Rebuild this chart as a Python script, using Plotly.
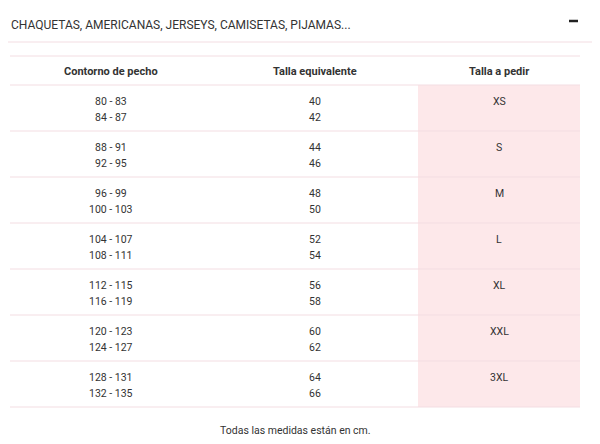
import plotly.graph_objects as go

title = "CHAQUETAS, AMERICANAS, JERSEYS, CAMISETAS, PIJAMAS..."
headers = ["Contorno de pecho", "Talla equivalente", "Talla a pedir"]
chest_a = ["80 - 83", "88 - 91", "96 - 99", "104 - 107", "112 - 115", "120 - 123", "128 - 131"]
chest_b = ["84 - 87", "92 - 95", "100 - 103", "108 - 111", "116 - 119", "124 - 127", "132 - 135"]
eq_a = ["40", "44", "48", "52", "56", "60", "64"]
eq_b = ["42", "46", "50", "54", "58", "62", "66"]
sizes = ["XS", "S", "M", "L", "XL", "XXL", "3XL"]
footer = "Todas las medidas están en cm."

W, H = 600, 444
OFF = 8  # page body margin compensation
line_c = "#f3dde2"
txt_c = "#333333"
font = "Roboto, Arial, sans-serif"
colx = [111, 315, 499]
row0, rowh = 85, 46
n = len(sizes)

fig = go.Figure()
shapes = []
ann = []
def A(x, y, t, size=11, xanchor="center", color=txt_c, bold=False):
    ann.append(dict(x=x, y=y, xref="x", yref="y", text=f"<b>{t}</b>" if bold else t,
                    showarrow=False, xanchor=xanchor, yanchor="middle",
                    font=dict(size=size, color=color, family=font)))

shapes.append(dict(type="rect", x0=418, x1=580, y0=row0, y1=row0 + n * rowh,
                   fillcolor="#fde8ea", line_width=0, layer="below"))
A(9, 25, title, size=12, xanchor="left")
shapes.append(dict(type="line", x0=569, x1=578, y0=21, y1=21, line=dict(color="#222", width=2.5)))
shapes.append(dict(type="line", x0=0, x1=592, y0=42, y1=42, line=dict(color=line_c, width=1)))
shapes.append(dict(type="line", x0=10, x1=580, y0=56, y1=56, line=dict(color=line_c, width=1)))
for x, h in zip(colx, headers):
    A(x, 71, h, size=11, bold=True)
for i in range(n + 1):
    y = row0 + i * rowh
    shapes.append(dict(type="line", x0=10, x1=580, y0=y, y1=y, line=dict(color=line_c, width=1)))
for i in range(n):
    y = row0 + i * rowh
    A(colx[0], y + 16, chest_a[i], size=10.5)
    A(colx[0], y + 32, chest_b[i], size=10.5)
    A(colx[1], y + 16, eq_a[i], size=10.5)
    A(colx[1], y + 32, eq_b[i], size=10.5)
    A(colx[2], y + 16, sizes[i], size=10.5)
A(295, 430, footer, size=10.5)

fig.update_layout(width=W, height=H, margin=dict(l=0, r=0, t=0, b=0),
                  plot_bgcolor="white", paper_bgcolor="white",
                  xaxis=dict(range=[OFF, W + OFF], visible=False, fixedrange=True),
                  yaxis=dict(range=[H + OFF, OFF], visible=False, fixedrange=True),
                  shapes=shapes, annotations=ann, showlegend=False)
fig.write_html("out.html", config={"displayModeBar": False})
